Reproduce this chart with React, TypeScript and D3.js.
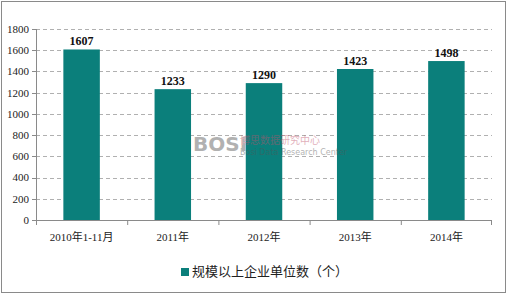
import React from "react";
import * as d3 from "d3";

const categories = ["2010年1-11月", "2011年", "2012年", "2013年", "2014年"];
const values = [1607, 1233, 1290, 1423, 1498];
const yTicks = [0, 200, 400, 600, 800, 1000, 1200, 1400, 1600, 1800];
const seriesName = "规模以上企业单位数（个）";

export default function App() {
  const W = 509, H = 296;
  const left = 36, right = 492, top = 29, bottom = 220;
  const x = d3.scaleBand<string>().domain(categories).range([left, right]).paddingInner(0.6).paddingOuter(0.3);
  const xb = d3.scaleBand<string>().domain(categories).range([left, right]);
  const y = d3.scaleLinear().domain([0, 1800]).range([bottom, top]);
  const color = "#0B7F7B";
  const font = "'Liberation Serif','Noto Sans CJK SC',serif";
  return (
    <div style={{ position: "absolute", left: 0, top: 0 }}>
      <svg width={W} height={H} style={{ display: "block", background: "#fff" }}>
        <rect x={1.5} y={1.5} width={504} height={291} fill="#fff" stroke="#8a8a8a" />
        {yTicks.filter(t => t > 0).map(t => (
          <line key={t} x1={left} x2={right} y1={Math.round(y(t)) + 0.5} y2={Math.round(y(t)) + 0.5}
            stroke="#b0b0b0" strokeDasharray="4,3" />
        ))}
        {categories.map((c, i) => (
          <rect key={c} x={x(c)} y={y(values[i])} width={x.bandwidth()} height={bottom - y(values[i])} fill={color} />
        ))}
        <line x1={left + 0.5} x2={left + 0.5} y1={top} y2={bottom} stroke="#8a8a8a" />
        <line x1={left} x2={right} y1={bottom + 0.5} y2={bottom + 0.5} stroke="#8a8a8a" />
        {yTicks.map(t => (
          <line key={"t" + t} x1={left - 4} x2={left} y1={Math.round(y(t)) + 0.5} y2={Math.round(y(t)) + 0.5} stroke="#8a8a8a" />
        ))}
        {categories.map((c, i) => (
          <line key={"xt" + c} x1={(xb(c) as number) + 0.5} x2={(xb(c) as number) + 0.5} y1={bottom} y2={bottom + 5} stroke="#8a8a8a" />
        ))}
        <line x1={right - 0.5} x2={right - 0.5} y1={bottom} y2={bottom + 5} stroke="#8a8a8a" />
        {yTicks.map(t => (
          <text key={"l" + t} x={left - 7} y={y(t)} dy="0.35em" textAnchor="end" fontSize={11} fontFamily={font} fill="#222">{t}</text>
        ))}
        {categories.map((c, i) => (
          <text key={"xl" + c} x={(x(c) as number) + x.bandwidth() / 2} y={241} textAnchor="middle" fontSize={11} fontFamily={font} fill="#222">{c}</text>
        ))}
        {categories.map((c, i) => (
          <text key={"v" + c} x={(x(c) as number) + x.bandwidth() / 2} y={y(values[i]) - 4} textAnchor="middle" fontSize={12} fontWeight="bold" fontFamily={font} fill="#111">{values[i]}</text>
        ))}
        <g opacity={0.45}>
          <text x={193} y={151} fontSize={20} fontWeight="bold" fontFamily="'DejaVu Sans',sans-serif" fill="#555">BOSI</text>
          <text x={240} y={144} fontSize={10} fontFamily="'Noto Sans CJK SC',sans-serif" fill="#c0506a">博思数据研究中心</text>
          <text x={240} y={155} fontSize={8} fontFamily="'DejaVu Sans',sans-serif" fill="#555">Bosi Data Research Center</text>
        </g>
        <rect x={181} y={268} width={8} height={8} fill={color} />
        <text x={192} y={276} fontSize={13} fontFamily="'Noto Sans CJK SC',sans-serif" fill="#222">{seriesName}</text>
      </svg>
    </div>
  );
}
